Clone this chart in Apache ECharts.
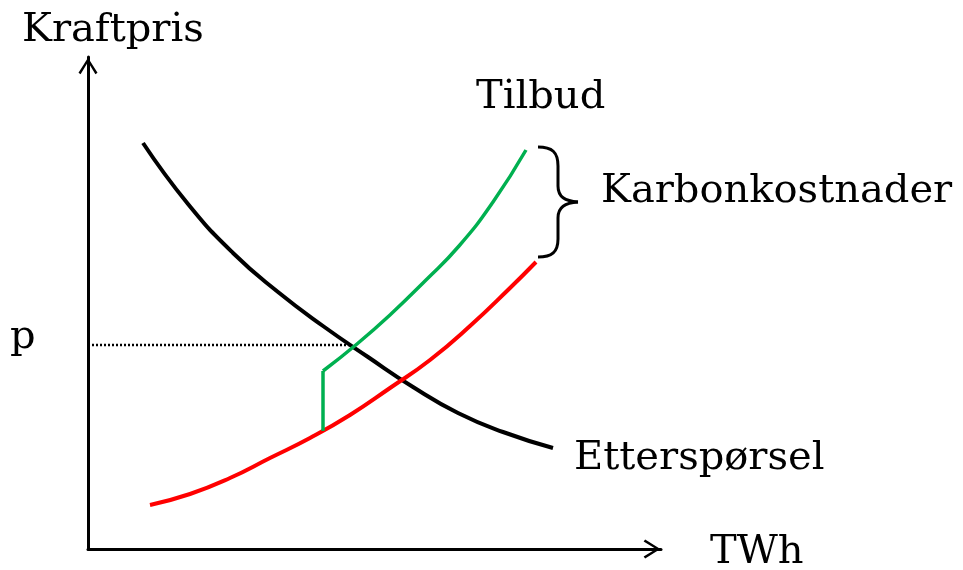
<!DOCTYPE html>
<html>
<head>
<meta charset="utf-8">
<script src="https://cdn.jsdelivr.net/npm/echarts@6/dist/echarts.min.js"></script>
<style>
    html, body { margin: 0; padding: 0; background: #fff; }
    #chart { width: 963px; height: 570px; }
</style>
</head>
<body>
<div id="chart"></div>
<script>
    // verdier lest av figuren (x = mengde, y = pris, vilkaarlige enheter)
    const etterspoersel = [[55,406],[100,345],[145,296],[190,257],[235,223],[280,192],[325,162],[370,136],[415,117],[465,101]];
    const tilbudUtenKarbon = [[62,44],[102,55],[142,71],[182,91],[222,111],[262,134],[302,161],[342,189],[382,223],[422,261],[448,287]];
    const tilbudSprang = [[235,118],[235,178]];
    const tilbudMedKarbon = [[235,178],[269,205],[303,235],[337,268],[371,303],[405,347],[438,399]];
    const prisLinje = [[0,204],[264,204]];
    const xMax = 573;
    const yMax = 492;

    const font = '40px "DejaVu Serif", serif';
    // chevron-pil (peker opp, roteres av echarts)
    const pil = 'path://M10,0 L20,16 L17.8,17.6 L10,4.6 L2.2,17.6 L0,16 Z';

    function tekst(t, x, y) {
        return { type: 'text', x: x, y: y, style: { text: t, font: font, fill: '#000', align: 'left', verticalAlign: 'middle' } };
    }
    const klammeStil = { fill: 'none', stroke: '#000', lineWidth: 3 };
    function kurve(x1, y1, c1x, c1y, c2x, c2y, x2, y2) {
        return { type: 'bezierCurve', shape: { x1: x1, y1: y1, cpx1: c1x, cpy1: c1y, cpx2: c2x, cpy2: c2y, x2: x2, y2: y2 }, style: klammeStil };
    }
    function strek(x1, y1, x2, y2) {
        return { type: 'line', shape: { x1: x1, y1: y1, x2: x2, y2: y2 }, style: klammeStil };
    }

    var option = {
        animation: false,
        grid: { left: 88, right: 302, top: 57, bottom: 21 },
        xAxis: {
            type: 'value', min: 0, max: xMax,
            axisLine: { show: true, lineStyle: { color: '#000', width: 3 }, symbol: ['none', pil], symbolSize: [19, 18], symbolOffset: [0, -9] },
            axisTick: { show: false }, axisLabel: { show: false }, splitLine: { show: false }
        },
        yAxis: {
            type: 'value', min: 0, max: yMax,
            axisLine: { show: true, lineStyle: { color: '#000', width: 3 }, symbol: ['none', pil], symbolSize: [19, 18], symbolOffset: [0, -9] },
            axisTick: { show: false }, axisLabel: { show: false }, splitLine: { show: false }
        },
        series: [
            {
                name: 'p', type: 'line', data: prisLinje, symbol: 'none',
                lineStyle: { color: '#000', width: 2.5, type: [2, 2] }
            },
            {
                name: 'Etterspørsel', type: 'line', data: etterspoersel, symbol: 'none', smooth: 0.5,
                lineStyle: { color: '#000', width: 4 }
            },
            {
                name: 'Tilbud uten karbon', type: 'line', data: tilbudUtenKarbon, symbol: 'none', smooth: 0.5,
                lineStyle: { color: '#ff0000', width: 4 }
            },
            {
                name: 'Sprang', type: 'line', data: tilbudSprang, symbol: 'none',
                lineStyle: { color: '#00b050', width: 3.5 }
            },
            {
                name: 'Tilbud', type: 'line', data: tilbudMedKarbon, symbol: 'none', smooth: 0.5,
                lineStyle: { color: '#00b050', width: 3.5 }
            }
        ],
        graphic: [
            tekst('Kraftpris', 22, 31),
            tekst('Tilbud', 476, 98),
            tekst('Karbonkostnader', 601, 192),
            tekst('p', 10, 338),
            tekst('Etterspørsel', 574, 459),
            tekst('TWh', 710, 553),
            // klamme for karbonkostnader
            kurve(538, 147, 552, 147, 558, 152, 558, 166),
            strek(558, 166, 558, 186),
            kurve(558, 186, 558, 197, 565, 201, 578, 202),
            kurve(578, 202, 565, 203, 558, 207, 558, 218),
            strek(558, 218, 558, 239),
            kurve(558, 239, 558, 252, 552, 257, 538, 257)
        ]
    };

    var myChart = echarts.init(document.getElementById('chart'));
    myChart.setOption(option);
</script>
</body>
</html>
